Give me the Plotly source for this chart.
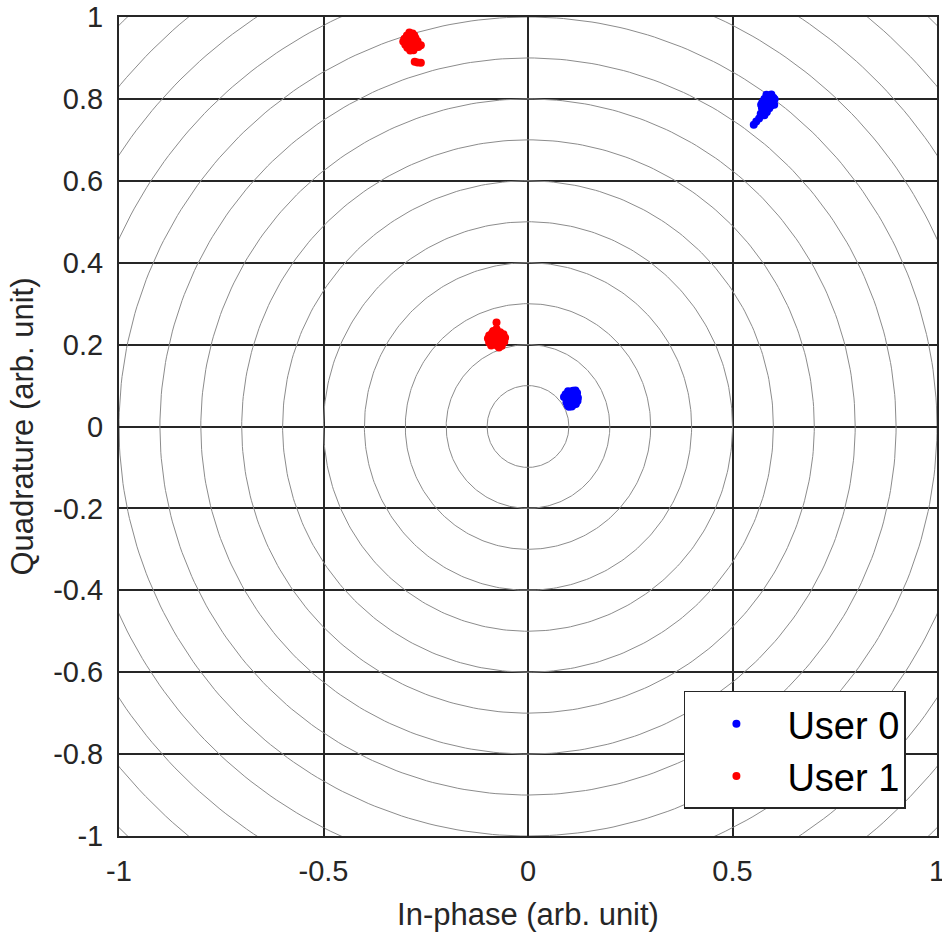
import numpy as np
import plotly.graph_objects as go

# Constellation samples (in-phase, quadrature) per user
user0_i = [0.098, 0.104, 0.110, 0.116, 0.092, 0.101, 0.107, 0.113, 0.120, 0.095,
           0.103, 0.109, 0.115, 0.122, 0.088, 0.099, 0.106, 0.112, 0.118, 0.094,
           0.102, 0.108, 0.114, 0.121, 0.097, 0.105, 0.111, 0.117, 0.100, 0.107,
           0.585, 0.592, 0.600, 0.578, 0.588, 0.596, 0.603, 0.573, 0.583, 0.590,
           0.598, 0.576, 0.586, 0.594, 0.602, 0.572, 0.581, 0.590, 0.575, 0.584,
           0.569, 0.578, 0.565, 0.558, 0.552, 0.583, 0.595, 0.570, 0.580]
user0_q = [0.086, 0.085, 0.087, 0.088, 0.079, 0.080, 0.078, 0.081, 0.082, 0.072,
           0.071, 0.073, 0.074, 0.070, 0.072, 0.065, 0.067, 0.064, 0.068, 0.059,
           0.058, 0.060, 0.057, 0.062, 0.052, 0.051, 0.053, 0.055, 0.048, 0.049,
           0.805, 0.808, 0.803, 0.800, 0.797, 0.796, 0.799, 0.792, 0.790, 0.788,
           0.790, 0.784, 0.781, 0.783, 0.786, 0.778, 0.775, 0.777, 0.770, 0.768,
           0.764, 0.760, 0.752, 0.745, 0.737, 0.810, 0.811, 0.786, 0.796]

user1_i = [-0.098, -0.095, -0.092, -0.088, -0.086, -0.084, -0.082, -0.080, -0.078, -0.076,
           -0.074, -0.072, -0.070, -0.068, -0.066, -0.064, -0.062, -0.060, -0.058, -0.056,
           -0.090, -0.077, -0.077, -0.071, -0.095, -0.085,
           -0.290, -0.282, -0.296, -0.287, -0.278, -0.302, -0.293, -0.284, -0.275, -0.305,
           -0.297, -0.288, -0.279, -0.270, -0.300, -0.291, -0.282, -0.272, -0.262, -0.295,
           -0.286, -0.277, -0.268, -0.288, -0.280, -0.277, -0.262, -0.270]
user1_q = [0.215, 0.222, 0.208, 0.228, 0.216, 0.203, 0.221, 0.232, 0.210, 0.198,
           0.225, 0.215, 0.205, 0.230, 0.220, 0.197, 0.212, 0.225, 0.207, 0.217,
           0.198, 0.238, 0.254, 0.193, 0.205, 0.233,
           0.962, 0.960, 0.955, 0.953, 0.955, 0.947, 0.945, 0.946, 0.948, 0.940,
           0.938, 0.937, 0.939, 0.941, 0.932, 0.930, 0.931, 0.933, 0.931, 0.925,
           0.923, 0.925, 0.927, 0.918, 0.919, 0.891, 0.888, 0.889]

# Reference rings (amplitude levels) and axis ticks
ring_radii = [0.1 * k for k in range(1, 15)]
x_ticks = [-1, -0.5, 0, 0.5, 1]
x_tick_text = ["-1", "-0.5", "0", "0.5", "1"]
y_ticks = [-1, -0.8, -0.6, -0.4, -0.2, 0, 0.2, 0.4, 0.6, 0.8, 1]
y_tick_text = ["-1", "-0.8", "-0.6", "-0.4", "-0.2", "0", "0.2", "0.4", "0.6", "0.8", "1"]

FONT = "Liberation Sans, Arial, sans-serif"
TXT = "#262626"

fig = go.Figure()

theta = np.linspace(0, 2 * np.pi, 361)
for r in ring_radii:
    fig.add_trace(go.Scatter(
        x=r * np.cos(theta), y=r * np.sin(theta), mode="lines",
        line=dict(color="#8c8c8c", width=1), hoverinfo="skip", showlegend=False))

fig.add_trace(go.Scatter(
    x=user0_i, y=user0_q, mode="markers", name="User 0",
    marker=dict(color="#0000ff", size=8, line=dict(width=0))))
fig.add_trace(go.Scatter(
    x=user1_i, y=user1_q, mode="markers", name="User 1",
    marker=dict(color="#ff0000", size=8, line=dict(width=0))))

axis_common = dict(
    showgrid=True, gridcolor="#262626", gridwidth=1.5,
    zeroline=True, zerolinecolor="#262626", zerolinewidth=1.5,
    showline=True, linecolor="#262626", linewidth=2, mirror="ticks",
    ticks="inside", ticklen=8, tickwidth=1.5, tickcolor="#262626",
    tickfont=dict(family=FONT, size=29, color=TXT),
    ticklabelstandoff=8, ticklabeloverflow="allow", automargin=False,
)

fig.update_xaxes(range=[-1, 1], tickvals=x_ticks, ticktext=x_tick_text,
                 title=dict(text="In-phase (arb. unit)", font=dict(family=FONT, size=31, color=TXT),
                            standoff=18),
                 **axis_common)
fig.update_yaxes(range=[-1, 1], tickvals=y_ticks, ticktext=y_tick_text,
                 title=dict(text="Quadrature (arb. unit)", font=dict(family=FONT, size=31, color=TXT),
                            standoff=10),
                 **axis_common)

fig.update_layout(
    width=942, height=933,
    margin=dict(l=119, r=5, t=17, b=97),
    paper_bgcolor="white", plot_bgcolor="white",
    showlegend=True,
    legend=dict(
        x=0.962, y=0.033, xanchor="right", yanchor="bottom",
        bgcolor="white", bordercolor="#262626", borderwidth=1.5,
        font=dict(family=FONT, size=38, color="black"),
        itemwidth=92, tracegroupgap=0,
    ),
)

fig.write_html("out.html")
